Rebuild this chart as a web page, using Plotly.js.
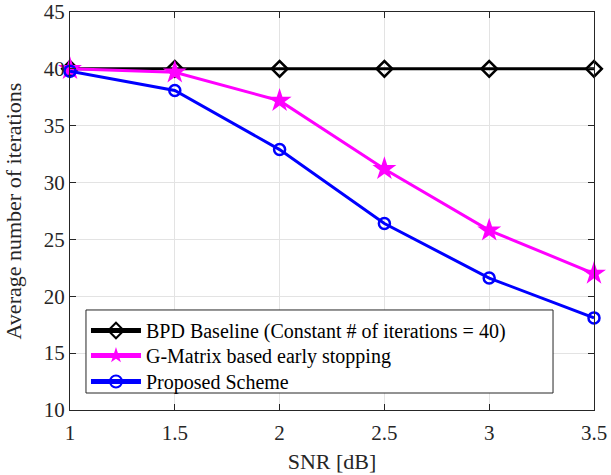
<!DOCTYPE html>
<html><head><meta charset="utf-8">
<script src="https://cdn.plot.ly/plotly-3.0.1.min.js"></script>
<style>html,body{margin:0;padding:0;background:#fff}#chart{width:611px;height:475px}</style>
</head><body><div id="chart"></div>
<script>
const snr = [1, 1.5, 2, 2.5, 3, 3.5];
const baseline = [40, 40, 40, 40, 40, 40];
const gmatrix = [40.0, 39.7, 37.2, 31.2, 25.8, 22.0];
const proposed = [39.8, 38.1, 32.9, 26.4, 21.6, 18.1];
const names = ["BPD Baseline (Constant # of iterations = 40)", "G-Matrix based early stopping", "Proposed Scheme"];
const xticks = [1, 1.5, 2, 2.5, 3, 3.5];
const yticks = [10, 15, 20, 25, 30, 35, 40, 45];

const traces = [
  {x: snr, y: baseline, name: names[0], mode: "lines+markers", legend: "legend", cliponaxis: false,
   line: {color: "#000000", width: 3},
   marker: {symbol: "diamond-open", size: 12, color: "#000000", line: {width: 2.5, color: "#000000"}}},
  {x: snr, y: gmatrix, name: names[1], mode: "lines+markers", legend: "legend2", cliponaxis: false,
   line: {color: "#ff00ff", width: 3},
   marker: {symbol: "star", size: 18, color: "#ff00ff", line: {width: 0}}},
  {x: snr, y: proposed, name: names[2], mode: "lines+markers", legend: "legend3", cliponaxis: false,
   line: {color: "#0000ff", width: 3},
   marker: {symbol: "circle-open", size: 11, color: "#0000ff", line: {width: 2.5, color: "#0000ff"}}}
];
const fam = "Liberation Serif, Times New Roman, serif";
const font = {family: fam, color: "#262626"};
const axisCommon = {
  showline: true, linecolor: "#262626", linewidth: 1, mirror: "ticks",
  ticks: "inside", ticklen: 6, tickcolor: "#262626",
  showgrid: true, gridcolor: "#e3e3e3", gridwidth: 1, zeroline: false,
  tickfont: Object.assign({size: 21}, font)
};
function leg(y) {
  return {x: 0.0305, y: y, xanchor: "left", yanchor: "top",
    bgcolor: "rgba(0,0,0,0)", borderwidth: 0, itemsizing: "constant",
    font: {family: fam, color: "#000000", size: 20}, itemwidth: 50};
}
const layout = {
  width: 611, height: 475,
  margin: {l: 70, r: 17, t: 12, b: 65},
  paper_bgcolor: "#ffffff", plot_bgcolor: "#ffffff",
  showlegend: true,
  legend: leg(0.2487),
  legend2: leg(0.1859),
  legend3: leg(0.1206),
  shapes: [{type: "rect", xref: "paper", yref: "paper", x0: 0.0305, x1: 0.9218, y0: 0.0427, y1: 0.2513,
    fillcolor: "#ffffff", line: {color: "#262626", width: 1}, layer: "above"}],
  xaxis: Object.assign({}, axisCommon, {range: [1, 3.5], tickvals: xticks, ticktext: xticks.map(String),
    ticklabelstandoff: 4,
    title: {text: "SNR [dB]", font: Object.assign({size: 22}, font), standoff: 9}}),
  yaxis: Object.assign({}, axisCommon, {range: [10, 45], tickvals: yticks, ticktext: yticks.map(String),
    title: {text: "Average number of iterations", font: Object.assign({size: 22}, font), standoff: 16}})
};
Plotly.newPlot("chart", traces, layout, {displayModeBar: false, staticPlot: true});
</script></body></html>
